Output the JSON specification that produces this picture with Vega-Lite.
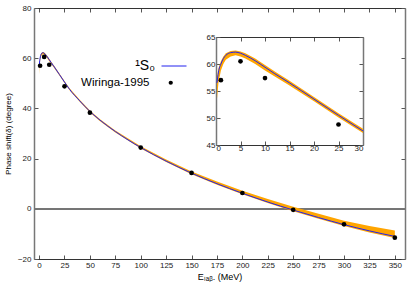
{
  "$schema": "https://vega.github.io/schema/vega-lite/v6.json",
  "width": 371,
  "height": 251,
  "autosize": {"type": "none"},
  "padding": {"left": 34, "top": 8, "right": 15, "bottom": 35},
  "background": "white",
  "config": {
    "view": {"stroke": null},
    "font": "Liberation Sans",
    "axis": {"labelFont": "Liberation Sans", "titleFont": "Liberation Sans", "labelFontSize": 8, "labelColor": "#222", "titleFontWeight": "normal", "grid": false, "tickColor": "#555", "domainColor": "#777", "tickSize": -4, "labelPadding": 7},
    "legend": {"labelFont": "Liberation Sans"}
  },
  "data": {"values": [
    {"type": "curve", "E": 0.2, "d": 56.5, "lo": 53.5, "hi": 57.5},
    {"type": "curve", "E": 0.5, "d": 58.5, "lo": 56.5, "hi": 59.2},
    {"type": "curve", "E": 1, "d": 60.0, "lo": 58.8, "hi": 60.5},
    {"type": "curve", "E": 1.5, "d": 61.0, "lo": 60.0, "hi": 61.4},
    {"type": "curve", "E": 2, "d": 61.6, "lo": 60.8, "hi": 62.0},
    {"type": "curve", "E": 3, "d": 62.1, "lo": 61.4, "hi": 62.4},
    {"type": "curve", "E": 4, "d": 62.2, "lo": 61.6, "hi": 62.5},
    {"type": "curve", "E": 5, "d": 62.0, "lo": 61.4, "hi": 62.3},
    {"type": "curve", "E": 6, "d": 61.6, "lo": 61.0, "hi": 62.0},
    {"type": "curve", "E": 8, "d": 60.6, "lo": 60.0, "hi": 61.0},
    {"type": "curve", "E": 10, "d": 59.4, "lo": 58.8, "hi": 59.8},
    {"type": "curve", "E": 12, "d": 58.2, "lo": 57.7, "hi": 58.6},
    {"type": "curve", "E": 15, "d": 56.5, "lo": 56.0, "hi": 56.9},
    {"type": "curve", "E": 20, "d": 53.5, "lo": 53.1, "hi": 53.9},
    {"type": "curve", "E": 25, "d": 50.5, "lo": 50.1, "hi": 50.9},
    {"type": "curve", "E": 30, "d": 47.6, "lo": 47.2, "hi": 48.0},
    {"type": "curve", "E": 40, "d": 43.0, "lo": 42.6, "hi": 43.4},
    {"type": "curve", "E": 50, "d": 38.8, "lo": 38.4, "hi": 39.2},
    {"type": "curve", "E": 60, "d": 35.3, "lo": 34.9, "hi": 35.7},
    {"type": "curve", "E": 75, "d": 30.8, "lo": 30.4, "hi": 31.2},
    {"type": "curve", "E": 100, "d": 24.4, "lo": 24.0, "hi": 24.9},
    {"type": "curve", "E": 125, "d": 19.0, "lo": 18.6, "hi": 19.6},
    {"type": "curve", "E": 150, "d": 14.2, "lo": 13.8, "hi": 14.9},
    {"type": "curve", "E": 175, "d": 10.0, "lo": 9.6, "hi": 10.9},
    {"type": "curve", "E": 200, "d": 6.2, "lo": 5.8, "hi": 7.2},
    {"type": "curve", "E": 225, "d": 2.7, "lo": 2.3, "hi": 3.9},
    {"type": "curve", "E": 250, "d": -0.5, "lo": -1.0, "hi": 0.8},
    {"type": "curve", "E": 275, "d": -3.5, "lo": -4.0, "hi": -2.0},
    {"type": "curve", "E": 300, "d": -6.3, "lo": -6.9, "hi": -4.8},
    {"type": "curve", "E": 325, "d": -8.8, "lo": -9.4, "hi": -6.9},
    {"type": "curve", "E": 350, "d": -11.0, "lo": -11.6, "hi": -8.6},
    {"type": "exp", "E": 1, "d": 57.0},
    {"type": "exp", "E": 5, "d": 60.5},
    {"type": "exp", "E": 10, "d": 57.4},
    {"type": "exp", "E": 25, "d": 48.8},
    {"type": "exp", "E": 50, "d": 38.3},
    {"type": "exp", "E": 100, "d": 24.4},
    {"type": "exp", "E": 150, "d": 14.3},
    {"type": "exp", "E": 200, "d": 6.3},
    {"type": "exp", "E": 250, "d": -0.4},
    {"type": "exp", "E": 300, "d": -6.2},
    {"type": "exp", "E": 350, "d": -11.5}
  ]},
  "layer": [
    {
      "resolve": {"axis": {"x": "independent", "y": "independent"}},
      "encoding": {
        "x": {"field": "E", "type": "quantitative", "scale": {"domain": [-5, 360], "nice": false}},
        "y": {"field": "d", "type": "quantitative", "scale": {"domain": [-20, 80], "nice": false}}
      },
      "layer": [
        {
          "mark": {"type": "rule", "color": "#777", "strokeWidth": 1},
          "encoding": {
            "y": {"datum": 0, "axis": null},
            "x": {"datum": -5, "axis": null},
            "x2": {"datum": 360}
          }
        },
        {
          "transform": [{"filter": "datum.type == 'curve'"}],
          "mark": {"type": "area", "color": "orange", "opacity": 1},
          "encoding": {
            "x": {"field": "E", "type": "quantitative", "axis": {"orient": "bottom", "values": [0,25,50,75,100,125,150,175,200,225,250,275,300,325,350], "title": "Eₗₐᵦ. (MeV)", "titleFontSize": 9, "titlePadding": 3, "labelPadding": 6, "domainColor": "#333"}},
            "y": {"field": "lo", "type": "quantitative", "axis": {"orient": "left", "values": [-20,0,20,40,60,80], "title": "Phase shift(δ) (degree)", "titleFontSize": 8, "titlePadding": 5, "labelPadding": 7, "domainWidth": 1.5}},
            "y2": {"field": "hi"}
          }
        },
        {
          "transform": [{"filter": "datum.type == 'curve'"}],
          "mark": {"type": "line", "strokeWidth": 1, "interpolate": "monotone"},
          "encoding": {
            "x": {"field": "E", "type": "quantitative", "axis": {"orient": "top", "values": [0,25,50,75,100,125,150,175,200,225,250,275,300,325,350], "labels": false, "title": null, "domainColor": "#333"}},
            "y": {"field": "d", "type": "quantitative", "axis": {"orient": "right", "values": [-20,0,20,40,60,80], "labels": false, "title": null, "domainWidth": 1.5}},
            "stroke": {"datum": "¹S₀", "type": "nominal", "scale": {"range": ["#2222ee"]}, "legend": {"orient": "none", "legendX": 127, "legendY": 45, "title": null, "symbolType": "stroke", "symbolSize": 625, "symbolStrokeWidth": 1, "labelFontSize": 14, "labelAlign": "right", "labelOffset": -32, "padding": 0}}
          }
        },
        {
          "transform": [{"filter": "datum.type == 'exp'"}],
          "mark": {"type": "circle", "size": 22, "opacity": 1},
          "encoding": {
            "x": {"field": "E", "type": "quantitative", "axis": null},
            "y": {"field": "d", "type": "quantitative", "axis": null},
            "fill": {"datum": "Wiringa-1995", "type": "nominal", "scale": {"range": ["black"]}, "legend": {"orient": "none", "legendX": 131, "legendY": 69, "title": null, "symbolType": "circle", "symbolSize": 18, "symbolStrokeWidth": 0, "symbolOpacity": 1, "labelFontSize": 11.5, "labelAlign": "right", "labelOffset": -27, "padding": 0}}
          }
        }
      ]
    },
    {
      "transform": [{"filter": "datum.E <= 30"}],
      "resolve": {"axis": {"x": "independent", "y": "independent"}},
      "encoding": {
        "x": {"field": "E", "type": "quantitative", "scale": {"domain": [0, 30], "range": [182, 329], "nice": false}},
        "y": {"field": "d", "type": "quantitative", "scale": {"domain": [45, 65], "range": [137, 29], "nice": false}}
      },
      "layer": [
        {
          "transform": [{"filter": "datum.type == 'curve'"}],
          "mark": {"type": "area", "color": "orange", "opacity": 1},
          "encoding": {
            "x": {"field": "E", "type": "quantitative", "axis": {"orient": "bottom", "offset": -114, "values": [0,5,10,15,20,25,30], "title": null, "labelPadding": 3, "domainColor": "#333"}},
            "y": {"field": "lo", "type": "quantitative", "axis": {"orient": "left", "offset": -182, "values": [45,50,55,60,65], "title": null, "labelPadding": 5, "domainWidth": 1.5}},
            "y2": {"field": "hi"}
          }
        },
        {
          "transform": [{"filter": "datum.type == 'curve'"}],
          "mark": {"type": "line", "strokeWidth": 1, "color": "#2222ee", "interpolate": "monotone"},
          "encoding": {
            "x": {"field": "E", "type": "quantitative", "axis": {"orient": "top", "offset": -29, "values": [0,5,10,15,20,25,30], "labels": false, "title": null, "domainColor": "#333"}},
            "y": {"field": "d", "type": "quantitative", "axis": {"orient": "right", "offset": -42, "values": [45,50,55,60,65], "labels": false, "title": null, "domainWidth": 1.5}}
          }
        },
        {
          "transform": [{"filter": "datum.type == 'exp'"}],
          "mark": {"type": "circle", "size": 22, "opacity": 1, "color": "black"},
          "encoding": {
            "x": {"field": "E", "type": "quantitative", "axis": null},
            "y": {"field": "d", "type": "quantitative", "axis": null}
          }
        }
      ]
    }
  ],
  "resolve": {"scale": {"x": "independent", "y": "independent"}, "axis": {"x": "independent", "y": "independent"}}
}
